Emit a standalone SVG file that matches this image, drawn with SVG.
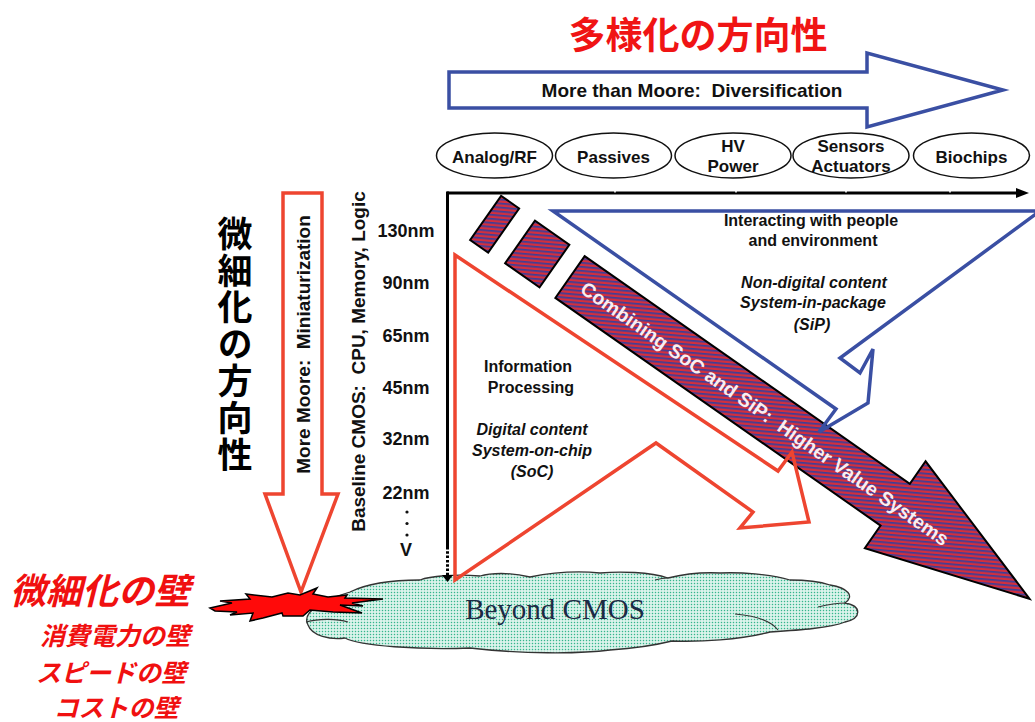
<svg xmlns="http://www.w3.org/2000/svg" width="1035" height="722" viewBox="0 0 1035 722" xml:space="preserve">
<defs>
<style>
.lbl{font-family:"Liberation Sans",Arial,sans-serif;font-weight:bold;fill:#111;text-anchor:middle;white-space:pre}
.it{font-style:italic}
.jp{font-family:"Noto Sans CJK JP","Noto Sans CJK SC",sans-serif;font-weight:bold;text-anchor:middle}
.ell{fill:#fff;stroke:#111;stroke-width:1.5}
.redo{fill:none;stroke:#ee4530;stroke-width:3.5;stroke-linejoin:miter}
.blueo{fill:none;stroke:#3a4fa3;stroke-width:3.5;stroke-linejoin:miter}
.hat{fill:url(#hatch);stroke:#000;stroke-width:2}
</style>
<pattern id="hatch" patternUnits="userSpaceOnUse" width="4" height="4" patternTransform="rotate(60)">
<rect width="4" height="4" fill="#d42f3c"/>
<rect width="1.7" height="4" fill="#3b3f9a"/>
</pattern>
<pattern id="dots" patternUnits="userSpaceOnUse" width="3" height="3">
<rect width="3" height="3" fill="#e2f6ef"/>
<rect x="0.8" y="0.8" width="1.4" height="1.4" fill="#36b58c"/>
</pattern>
</defs>
<rect width="1035" height="722" fill="#fff"/>

<g id="title">
<text class="jp" x="698" y="49" font-size="37" fill="#f01414">多様化の方向性</text>
</g>

<g id="more-than-moore">
<polygon class="blueo" points="449,72 867,72 867,53 1003,90 867,127 867,108 449,108"/>
<text class="lbl" x="692" y="97" font-size="19">More than Moore:  Diversification</text>
</g>

<g id="analog-rf"><ellipse class="ell" cx="494.5" cy="155.5" rx="58" ry="22.5"/><text class="lbl" x="494.5" y="162.5" font-size="17">Analog/RF</text></g>
<g id="passives"><ellipse class="ell" cx="613.5" cy="155.5" rx="58" ry="22.5"/><text class="lbl" x="613.5" y="162.5" font-size="17">Passives</text></g>
<g id="hv-power"><ellipse class="ell" cx="733" cy="155.5" rx="58" ry="22.5"/><text class="lbl" x="733" y="152" font-size="17">HV</text><text class="lbl" x="733" y="172" font-size="17">Power</text></g>
<g id="sensors"><ellipse class="ell" cx="851" cy="155.5" rx="58" ry="22.5"/><text class="lbl" x="851" y="152" font-size="17">Sensors</text><text class="lbl" x="851" y="172" font-size="17">Actuators</text></g>
<g id="biochips"><ellipse class="ell" cx="971.5" cy="155.5" rx="58" ry="22.5"/><text class="lbl" x="971.5" y="162.5" font-size="17">Biochips</text></g>

<g id="left-title">
<text x="235" y="216" font-family="'Noto Sans CJK JP','Noto Sans CJK SC',sans-serif" font-weight="bold" font-size="35" fill="#000" writing-mode="vertical-rl" letter-spacing="1.8">微細化の方向性</text>
</g>

<g id="more-moore">
<polygon class="redo" points="283,193 322,193 322,494 338,494 301,592 265,494 283,494"/>
<text class="lbl" transform="translate(310,344.5) rotate(-90)" font-size="19">More Moore:  Miniaturization</text>
</g>

<g id="baseline-cmos">
<text class="lbl" transform="translate(365,361.5) rotate(-90)" font-size="19">Baseline CMOS:  CPU, Memory, Logic</text>
</g>

<g id="nodes-nm">
<text class="lbl" x="406" y="236.5" font-size="18">130nm</text>
<text class="lbl" x="406" y="288.5" font-size="18">90nm</text>
<text class="lbl" x="406" y="341.5" font-size="18">65nm</text>
<text class="lbl" x="406" y="393.5" font-size="18">45nm</text>
<text class="lbl" x="406" y="444.5" font-size="18">32nm</text>
<text class="lbl" x="406" y="498.5" font-size="18">22nm</text>
<circle cx="407" cy="512" r="1.6" fill="#111"/>
<circle cx="407" cy="523.5" r="1.6" fill="#111"/>
<circle cx="407" cy="535" r="1.6" fill="#111"/>
<text class="lbl" x="406" y="556" font-size="18">V</text>
</g>

<g id="beyond-cmos">
<path d="M 350,592 C 330,598 300,610 308,625 C 312,636 330,640 345,638 C 360,646 420,650 470,648 C 520,654 580,654 610,650 C 640,648 660,644 672,641 C 700,642 740,640 770,632 C 800,630 830,628 845,622 C 862,618 862,606 845,603 C 855,596 848,588 830,585 C 815,580 800,580 790,580 C 770,574 740,572 720,573 C 700,572 680,575 668,578 C 650,572 620,571 600,573 C 570,570 545,574 530,577 C 510,572 490,573 480,576 C 455,574 430,576 420,580 C 400,580 370,582 350,592 Z" fill="url(#dots)" stroke="#333" stroke-width="1.3"/>
<path d="M 735,614 C 758,616 772,622 778,630 M 818,607 C 830,604 840,603 846,603 M 306,622 C 320,618 338,619 348,622 M 655,580 C 662,578 666,578 668,578" fill="none" stroke="#333" stroke-width="1.1"/>
<text x="555" y="619" font-family="'Liberation Serif','Times New Roman',serif" font-size="29" fill="#1c2a44" text-anchor="middle">Beyond CMOS</text>
</g>

<g id="connectors">
<line x1="447" y1="193" x2="1018" y2="193" stroke="#000" stroke-width="3"/>
<polygon points="1016,188 1029,193 1016,198" fill="#000"/>
<g stroke="#fff" stroke-width="1.6">
<line x1="615" y1="191" x2="615" y2="192.5"/>
<line x1="736" y1="191" x2="736" y2="192.5"/>
<line x1="846" y1="191" x2="846" y2="192.5"/>
<line x1="950" y1="191" x2="950" y2="192.5"/>
</g>
<line x1="447.5" y1="191.5" x2="447.5" y2="547" stroke="#000" stroke-width="3"/>
<line x1="447.5" y1="547" x2="447.5" y2="576" stroke="#000" stroke-width="3" stroke-dasharray="2.5,1.8"/>
<polygon points="442,575 453,575 447.5,582" fill="#000"/>
</g>

<g id="big-arrow">
<g transform="translate(570,277) rotate(35)">
<rect class="hat" x="-103" y="-27" width="22" height="54"/>
<rect class="hat" x="-61" y="-26" width="42" height="52"/>
<polygon class="hat" points="0,-25.5 397,-25.5 397,-53 561,0 397,53 397,25.5 0,25.5"/>
<text class="lbl" x="238" y="7" font-size="19.5" style="fill:#f8eef2">Combining SoC and SiP:  Higher Value Systems</text>
</g>
</g>

<g id="soc">
<polygon class="redo" points="455,255 778,471 792,452 809,522 740,528 753,512 656,443 455,580"/>
<text class="lbl" x="528" y="372" font-size="16">Information</text>
<text class="lbl" x="531" y="393" font-size="16">Processing</text>
<text class="lbl it" x="532" y="435" font-size="16">Digital content</text>
<text class="lbl it" x="532" y="456" font-size="16">System-on-chip</text>
<text class="lbl it" x="532" y="477" font-size="16">(SoC)</text>
</g>

<g id="sip">
<polygon class="blueo" points="553,211 1040,211 840,358 860,373 873,349 868,403 819,432 836,409"/>
<text class="lbl" x="811" y="226" font-size="16">Interacting with people</text>
<text class="lbl" x="813" y="246" font-size="16">and environment</text>
<text class="lbl it" x="814" y="288" font-size="16">Non-digital content</text>
<text class="lbl it" x="813" y="308" font-size="16">System-in-package</text>
<text class="lbl it" x="812" y="330" font-size="16">(SiP)</text>
</g>

<g id="wall-burst">
<polygon points="210,608 232,603 220,601 250,599 246,594 272,597 288,593 300,595 317,588 313,594 328,597 347,595 345,598 383,599 352,603 363,606 340,605 362,613 333,612 310,610 303,616 283,616 282,613 263,618 250,621 253,613 230,615 237,612 215,611" fill="#ff0a0a" stroke="#000" stroke-width="1.5" stroke-linejoin="miter"/>
</g>

<g id="walls">
<text class="jp it" x="100" y="603.5" font-size="36" fill="#f01010">微細化の壁</text>
<text class="jp it" x="115" y="645" font-size="25" fill="#f01010">消費電力の壁</text>
<text class="jp it" x="111" y="682" font-size="25" fill="#f01010">スピードの壁</text>
<text class="jp it" x="116" y="717" font-size="25" fill="#f01010">コストの壁</text>
</g>
</svg>
